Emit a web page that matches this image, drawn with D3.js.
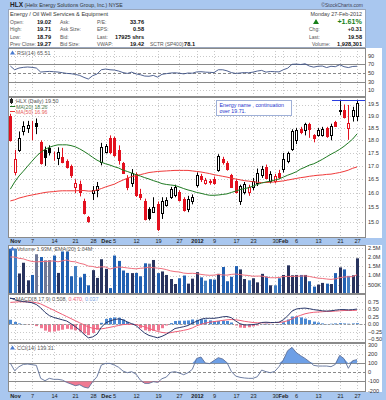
<!DOCTYPE html>
<html>
<head>
<meta charset="utf-8">
<script src="https://cdn.jsdelivr.net/npm/d3@7"></script>
<style>
  body { margin: 0; background: #a9c7ef; }
  svg { display: block; font-family: "Liberation Sans", Arial, sans-serif; }
</style>
</head>
<body>
<svg id="chart" width="386" height="400"></svg>
<script>
// trading days shown on the chart
const dates = [
  "2011-10-31","2011-11-01","2011-11-02","2011-11-03","2011-11-04",
  "2011-11-07","2011-11-08","2011-11-09","2011-11-10","2011-11-11",
  "2011-11-14","2011-11-15","2011-11-16","2011-11-17","2011-11-18",
  "2011-11-21","2011-11-22","2011-11-23","2011-11-25",
  "2011-11-28","2011-11-29","2011-11-30","2011-12-01","2011-12-02",
  "2011-12-05","2011-12-06","2011-12-07","2011-12-08","2011-12-09",
  "2011-12-12","2011-12-13","2011-12-14","2011-12-15","2011-12-16",
  "2011-12-19","2011-12-20","2011-12-21","2011-12-22","2011-12-23",
  "2011-12-27","2011-12-28","2011-12-29","2011-12-30",
  "2012-01-03","2012-01-04","2012-01-05","2012-01-06",
  "2012-01-09","2012-01-10","2012-01-11","2012-01-12","2012-01-13",
  "2012-01-17","2012-01-18","2012-01-19","2012-01-20",
  "2012-01-23","2012-01-24","2012-01-25","2012-01-26","2012-01-27",
  "2012-01-30","2012-01-31","2012-02-01","2012-02-02","2012-02-03",
  "2012-02-06","2012-02-07","2012-02-08","2012-02-09","2012-02-10",
  "2012-02-13","2012-02-14","2012-02-15","2012-02-16","2012-02-17",
  "2012-02-21","2012-02-22","2012-02-23","2012-02-24",
  "2012-02-27"
];

const open = [19.00,16.78,17.63,18.37,18.50,18.52,18.70,17.95,17.60,17.70,
  17.50,17.30,17.33,17.18,17.00,16.20,16.33,15.72,15.16,16.00,
  16.12,17.13,17.55,18.10,18.08,17.60,17.10,16.55,16.35,16.70,
  15.98,15.72,15.45,15.35,15.60,15.30,15.58,15.86,15.92,16.03,
  15.79,15.44,15.70,16.30,16.62,16.37,16.45,16.50,16.83,17.25,
  17.12,16.65,16.43,15.72,16.05,16.05,16.20,16.35,16.65,16.95,
  16.43,16.45,16.75,16.88,17.20,17.65,18.00,18.45,18.43,18.65,
  18.22,18.20,18.22,18.52,18.22,18.75,19.20,19.25,18.52,19.00,
  19.02];
const high = [19.10,17.62,18.36,18.78,18.80,18.80,18.90,18.00,17.75,17.80,
  17.55,17.72,17.70,17.25,17.05,16.50,16.45,15.80,15.20,16.25,
  16.40,17.90,17.85,18.20,18.15,17.80,17.15,16.65,16.88,16.75,
  16.15,15.80,15.50,15.85,15.70,15.85,15.85,16.22,16.30,16.10,
  15.85,15.90,15.95,16.75,16.70,16.55,16.50,16.60,17.45,17.35,
  17.18,16.70,16.50,16.30,16.40,16.30,16.55,16.90,17.00,17.05,
  16.80,16.70,16.85,17.50,17.55,18.45,18.50,18.55,18.72,18.72,
  18.25,18.50,18.55,18.55,18.68,18.80,19.71,19.50,19.48,19.40,
  19.71];
const low = [17.95,16.65,17.54,18.20,18.30,18.00,18.25,17.05,17.00,17.40,
  17.20,17.03,17.10,16.90,16.55,16.00,15.88,15.25,14.97,15.75,
  15.85,17.02,17.48,17.45,17.35,17.05,16.70,16.10,16.22,15.86,
  15.75,15.05,15.05,15.30,14.70,15.10,15.52,15.79,15.85,15.70,
  15.35,15.33,15.60,16.20,16.40,16.30,16.30,16.30,16.78,17.05,
  16.82,16.18,15.98,15.58,15.95,15.90,16.10,16.25,16.55,16.50,
  16.35,16.35,16.50,16.75,17.10,17.58,17.85,18.25,18.20,18.10,
  17.92,18.15,18.15,18.10,18.00,18.55,19.05,18.90,18.02,18.77,
  18.79];
const close = [18.00,17.26,18.10,18.60,18.62,18.50,18.60,17.12,17.35,17.55,
  17.48,17.55,17.15,16.95,16.65,16.35,16.02,15.30,15.03,16.10,
  16.25,17.75,17.78,17.52,17.42,17.23,16.75,16.20,16.75,15.93,
  15.85,15.10,15.12,15.50,14.75,15.70,15.75,16.14,16.22,15.75,
  15.40,15.79,15.86,16.65,16.52,16.47,16.40,16.38,17.38,17.15,
  16.88,16.22,16.04,16.25,16.33,16.20,16.45,16.75,16.88,16.55,
  16.68,16.62,16.58,17.25,17.50,18.38,18.40,18.32,18.65,18.45,
  18.10,18.42,18.48,18.18,18.60,18.58,19.27,18.98,18.70,19.27,
  19.58];

const ma20 = [16.14,16.40,16.62,16.80,16.99,17.18,17.37,17.52,17.64,17.72,
  17.78,17.82,17.82,17.82,17.79,17.74,17.66,17.56,17.45,17.33,
  17.22,17.14,17.08,17.03,16.97,16.92,16.84,16.79,16.73,16.67,
  16.62,16.56,16.51,16.45,16.40,16.34,16.31,16.29,16.27,16.22,
  16.16,16.11,16.07,16.02,15.99,15.95,15.92,15.92,15.93,15.95,
  15.97,16.02,16.07,16.12,16.16,16.19,16.25,16.31,16.36,16.40,
  16.43,16.47,16.51,16.58,16.65,16.71,16.78,16.88,16.95,17.03,
  17.08,17.16,17.25,17.35,17.45,17.54,17.64,17.76,17.90,18.05,
  18.26];
const ma50 = [15.72,15.76,15.82,15.86,15.90,15.93,15.96,15.99,16.02,16.04,
  16.05,16.07,16.08,16.08,16.08,16.08,16.09,16.09,16.07,16.07,
  16.11,16.16,16.22,16.27,16.32,16.40,16.47,16.54,16.60,16.63,
  16.67,16.71,16.75,16.77,16.79,16.80,16.81,16.82,16.83,16.83,
  16.83,16.83,16.81,16.79,16.77,16.74,16.71,16.67,16.64,16.61,
  16.58,16.54,16.51,16.48,16.45,16.43,16.41,16.39,16.38,16.38,
  16.39,16.40,16.42,16.44,16.47,16.50,16.53,16.56,16.58,16.61,
  16.63,16.65,16.66,16.68,16.69,16.72,16.75,16.79,16.84,16.91,
  16.96];

// volume in millions of shares
const volume = [2.45,2.45,1.11,1.69,0.74,1.03,2.15,2.00,1.82,1.83,
  2.08,1.14,2.30,2.30,0.96,1.51,0.90,1.09,0.47,1.29,
  0.87,1.88,1.36,0.32,2.08,1.79,1.27,1.14,1.13,1.14,
  0.96,1.66,1.64,1.84,1.13,1.22,1.03,0.81,0.54,0.85,
  1.00,0.56,0.83,1.18,0.90,0.72,0.80,0.78,1.09,1.46,
  0.69,0.93,1.51,1.33,0.81,0.74,0.85,0.63,1.09,0.94,
  0.47,0.47,0.85,1.03,1.55,1.01,1.03,1.03,1.03,0.69,
  0.40,0.51,0.60,0.56,0.54,1.13,1.44,1.33,0.98,1.01,
  1.93];
const volEma = [2.00,2.00,1.93,1.90,1.82,1.76,1.74,1.75,1.76,1.77,
  1.79,1.74,1.79,1.84,1.76,1.74,1.66,1.61,1.51,1.49,
  1.43,1.47,1.46,1.35,1.42,1.46,1.44,1.41,1.38,1.36,
  1.39,1.41,1.45,1.42,1.40,1.37,1.32,1.25,1.21,1.19,
  1.13,1.11,1.12,1.10,1.06,1.03,1.01,1.02,1.06,1.03,
  1.02,1.06,1.08,1.05,1.02,1.00,0.96,0.97,0.97,0.92,
  0.88,0.88,0.89,0.95,0.95,0.95,0.96,0.97,0.98,0.95,
  0.90,0.86,0.84,0.81,0.79,0.82,0.88,0.92,0.93,0.94,
  1.04];

const rsi = [66,57.5,61.4,63,63.8,63,61.4,52.2,53,53.7,
  53,52.2,50.7,49.1,48.4,46.8,44.5,39.9,36.1,43.8,
  47.6,57.5,59.1,57.5,56.8,54.5,51,49,52,48,
  46,43,42.5,44.5,40.5,47,48.5,50,50.5,49.5,
  48,50,49.5,52.5,53,52,51.5,51,57.5,57.5,
  55,51,49,50,51,50.5,52,54.5,56,52,
  53.5,53,52.5,57.5,61,70,70.5,69.5,71,66,
  63.5,65.5,66,62.5,65.5,64.5,69,64.5,62.5,65,
  65.51];

const macd = [0.88,0.82,0.78,0.76,0.74,0.72,0.66,0.55,0.40,0.29,
  0.23,0.19,0.15,0.11,0.02,-0.08,-0.19,-0.33,-0.45,-0.42,
  -0.33,-0.10,0.05,0.11,0.16,0.18,0.15,0.08,0.02,-0.04,
  -0.17,-0.29,-0.37,-0.41,-0.45,-0.40,-0.33,-0.24,-0.14,-0.11,
  -0.08,-0.04,0.04,0.10,0.17,0.20,0.20,0.20,0.22,0.25,
  0.26,0.22,0.11,0.02,-0.02,-0.02,-0.01,0.01,0.06,0.07,
  0.06,0.06,0.07,0.15,0.28,0.44,0.51,0.53,0.54,0.52,
  0.49,0.47,0.45,0.44,0.45,0.47,0.49,0.49,0.48,0.49,
  0.508];
const signal = [0.73,0.74,0.75,0.75,0.75,0.74,0.72,0.68,0.61,0.54,
  0.47,0.40,0.33,0.26,0.19,0.12,0.05,-0.02,-0.09,-0.13,
  -0.15,-0.15,-0.13,-0.10,-0.07,-0.04,-0.01,0.00,0.00,-0.01,
  -0.04,-0.09,-0.14,-0.19,-0.24,-0.27,-0.29,-0.28,-0.25,-0.23,
  -0.20,-0.17,-0.12,-0.05,0.00,0.04,0.07,0.09,0.11,0.13,
  0.15,0.16,0.15,0.13,0.10,0.08,0.06,0.05,0.05,0.05,
  0.05,0.06,0.06,0.08,0.12,0.18,0.25,0.30,0.35,0.38,
  0.40,0.41,0.42,0.43,0.43,0.44,0.45,0.46,0.46,0.46,
  0.470];

const cci = [100,18,62,87,91,84,77,-66,-92,-66,
  -77,-77,-85,-110,-128,-147,-136,-162,-173,-103,
  -48,80,98,98,80,55,14,-4,7,-19,
  -85,-121,-121,-103,-110,-70,-52,0,7,-8,
  -26,-4,33,153,168,102,96,130,161,146,
  106,10,-41,-55,-62,-66,-66,-48,25,7,
  -4,10,62,135,238,274,216,183,153,117,
  77,69,69,69,62,87,186,150,44,128,
  139.31];

// x axis labels
const tickDates = ["2011-11-01","2011-11-07","2011-11-14","2011-11-21","2011-11-28",
  "2011-12-01","2011-12-05","2011-12-12","2011-12-19","2011-12-27",
  "2012-01-03","2012-01-09","2012-01-17","2012-01-23","2012-01-30",
  "2012-02-01","2012-02-06","2012-02-13","2012-02-21","2012-02-27"];
const tickLabels = ["Nov","7","14","21","28","Dec","5","12","19","27",
  "2012","9","17","23","30","Feb","6","13","21","27"];

const priceTicks = [19.5,19.0,18.5,18.0,17.5,17.0,16.5,16.0,15.5,15.0];
const rsiTicks = [90,70,50,30,10];
const volTicks = [2.5,2.0,1.5,1.0,0.5];
const macdTicks = [0.75,0.5,0.25,0,-0.25,-0.5];
const cciTicks = [300,200,100,0,-100,-200];

// annotation drawn on the chart
const noteLines = ["Energy name , continuation", "over 19.71."];
const noteLevel = 19.71;
const noteStart = "2012-01-10";
const lineStart = "2012-02-16";

// ---------- layout ----------
const svg = d3.select("#chart");
const PL = 8, PR = 366, AX = 382;
const n = dates.length;
const x = d3.scaleLinear().domain([0, n - 1]).range([10.33, 357]);
const cx = i => Math.round(x(i)) + 0.5;
const tickIdx = tickDates.map(d => dates.indexOf(d));

svg.append("rect").attr("width", 386).attr("height", 400).attr("fill", "#a9c7ef");

function txt(g, xx, yy, s, o = {}) {
  return g.append("text").attr("x", xx).attr("y", yy)
    .attr("font-size", o.size || 6)
    .attr("font-weight", o.bold ? "bold" : null)
    .attr("fill", o.fill || "#333")
    .attr("text-anchor", o.anchor || "start")
    .text(s);
}

// ---------- header ----------
const head = svg.append("g");
const title = head.append("text").attr("x", 10).attr("y", 7).attr("fill", "#222");
title.append("tspan").attr("font-size", 6.5).attr("font-weight", "bold").text("HLX");
title.append("tspan").attr("font-size", 5.2).attr("fill", "#333").text(" (Helix Energy Solutions Group, Inc.) NYSE");
txt(head, 363, 6.5, "\u00a9StockCharts.com", { size: 5, anchor: "end", fill: "#445" });

head.append("rect").attr("x", PL + 0.5).attr("y", 9.5).attr("width", PR - PL - 1).attr("height", 38)
  .attr("fill", "#fff").attr("stroke", "#9aa7bd");

txt(head, 10, 16, "Energy / Oil Well Services & Equipment", { size: 5.6, fill: "#333" });
const rowsY = [23.5, 31, 38.5, 46];
const col1 = [["Open:", "19.02"], ["High:", "19.71"], ["Low:", "18.79"], ["Prev Close:", "19.27"]];
const col2 = ["Ask:", "Ask Size:", "Bid:", "Bid Size:"];
const col3 = [["P/E:", "33.76"], ["EPS:", "0.58"], ["Last:", "17925 shrs"], ["VWAP:", "19.42"]];
rowsY.forEach((yy, r) => {
  txt(head, 10, yy, col1[r][0], { size: 5, fill: "#555" });
  txt(head, 51, yy, col1[r][1], { size: 5.6, bold: true, anchor: "end", fill: "#111" });
  txt(head, 60, yy, col2[r], { size: 5, fill: "#555" });
  txt(head, 97, yy, col3[r][0], { size: 5, fill: "#555" });
  txt(head, 144, yy, col3[r][1], { size: 5.6, bold: true, anchor: "end", fill: "#111" });
});
txt(head, 150, 46, "SCTR (SP400):", { size: 5, fill: "#555" });
txt(head, 195, 46, "78.1", { size: 5.6, bold: true, anchor: "end", fill: "#111" });

txt(head, 362, 16, "Monday 27-Feb-2012", { size: 5.4, anchor: "end", fill: "#444" });
head.append("path").attr("d", "M313,24 L316,19 L319,24 Z").attr("fill", "#16801a");
txt(head, 362, 24, "+1.61%", { size: 7.2, bold: true, anchor: "end", fill: "#16801a" });
txt(head, 309, 31, "Chg:", { size: 5, fill: "#555" });
txt(head, 362, 31, "+0.31", { size: 5.6, bold: true, anchor: "end", fill: "#222" });
txt(head, 309, 38.5, "Last:", { size: 5, fill: "#555" });
txt(head, 362, 38.5, "19.58", { size: 5.6, bold: true, anchor: "end", fill: "#111" });
txt(head, 312, 46, "Volume:", { size: 5, fill: "#555" });
txt(head, 362, 46, "1,928,301", { size: 5.6, bold: true, anchor: "end", fill: "#111" });

// ---------- panel helper ----------
let clipN = 0;
function panel(top, bottom, y, ticks, fmt, solid = [], dashed = []) {
  const g = svg.append("g");
  g.append("rect").attr("x", PL).attr("y", top).attr("width", AX - PL).attr("height", bottom - top)
    .attr("fill", "#fff");
  g.selectAll(null).data(tickIdx).join("line")
    .attr("x1", cx).attr("x2", cx).attr("y1", top).attr("y2", bottom)
    .attr("stroke", "#c9c9c9").attr("stroke-dasharray", "1,2");
  g.selectAll(null).data(ticks.filter(t => !solid.includes(t) && !dashed.includes(t))).join("line")
    .attr("x1", PL).attr("x2", PR)
    .attr("y1", d => Math.round(y(d)) + 0.5).attr("y2", d => Math.round(y(d)) + 0.5)
    .attr("stroke", "#c9c9c9").attr("stroke-dasharray", "1,2");
  g.selectAll(null).data(solid).join("line")
    .attr("x1", PL).attr("x2", PR)
    .attr("y1", d => Math.round(y(d)) + 0.5).attr("y2", d => Math.round(y(d)) + 0.5)
    .attr("stroke", "#8a8a8a");
  g.selectAll(null).data(dashed).join("line")
    .attr("x1", PL).attr("x2", PR)
    .attr("y1", d => Math.round(y(d)) + 0.5).attr("y2", d => Math.round(y(d)) + 0.5)
    .attr("stroke", "#8a8a8a").attr("stroke-dasharray", "3,2");
  g.selectAll(null).data(ticks).join("text")
    .attr("x", PR + 2).attr("y", d => y(d)).attr("dy", "0.35em")
    .attr("font-size", 5.6).attr("fill", "#333").text(fmt);
  const id = "clip" + (clipN++);
  svg.append("clipPath").attr("id", id).append("rect")
    .attr("x", PL).attr("y", top).attr("width", PR - PL).attr("height", bottom - top);
  const plot = svg.append("g").attr("clip-path", `url(#${id})`);
  const frame = () => svg.append("rect").attr("x", PL + 0.5).attr("y", top + 0.5)
    .attr("width", PR - PL - 1).attr("height", bottom - top - 1)
    .attr("fill", "none").attr("stroke", "#8a8a8a");
  return { plot, frame, g };
}

function icon(g, yy) {
  g.append("path").attr("d", `M10,${yy + 2} L12.5,${yy - 2} L15,${yy + 2} Z`).attr("fill", "#4a7bd0");
}

const lineGen = (y, arr) => d3.line().x((d, i) => x(i)).y(d => y(d))(arr);

// ---------- RSI ----------
const yR = d3.scaleLinear().domain([-5.2, 107.5]).range([97, 48]);
const pR = panel(48, 97, yR, rsiTicks, d => d, [70, 30], [50]);
pR.plot.append("path")
  .attr("d", d3.area().x((d, i) => x(i)).y0(yR(70)).y1(d => yR(Math.max(d, 70)))(rsi))
  .attr("fill", "#34497e");
pR.plot.append("path").attr("d", lineGen(yR, rsi)).attr("fill", "none")
  .attr("stroke", "#3d5186").attr("stroke-width", 0.9);
pR.frame();
icon(svg, 52.5);
txt(svg, 17, 54.5, "RSI(14) 65.51", { size: 5.4, fill: "#555" });

// ---------- price ----------
const yP = d3.scaleLog().domain([14.47, 19.83]).range([238, 97]);
const pP = panel(97, 238, yP, priceTicks, d3.format(".1f"));

const isUp = i => close[i] >= (i ? close[i - 1] : open[i]);
const candles = pP.plot.append("g");
d3.range(n).forEach(i => {
  const col = isUp(i) ? "#000" : "#e3101e";
  const hollow = close[i] > open[i];
  candles.append("line")
    .attr("x1", cx(i)).attr("x2", cx(i))
    .attr("y1", yP(high[i])).attr("y2", yP(low[i]))
    .attr("stroke", col).attr("stroke-width", 1);
  const yTop = Math.round(yP(Math.max(open[i], close[i]))) + 0.5;
  const yBot = Math.round(yP(Math.min(open[i], close[i]))) + 0.5;
  candles.append("rect")
    .attr("x", Math.round(x(i)) - 0.5).attr("y", yTop)
    .attr("width", 2).attr("height", Math.max(yBot - yTop, 0))
    .attr("fill", hollow ? "#fff" : col).attr("stroke", col).attr("stroke-width", 1);
});
pP.plot.append("path").attr("d", lineGen(yP, ma50)).attr("fill", "none")
  .attr("stroke", "#f03a3a").attr("stroke-width", 1);
pP.plot.append("path").attr("d", lineGen(yP, ma20)).attr("fill", "none")
  .attr("stroke", "#1f7a22").attr("stroke-width", 1);

// annotation
const lvlY = Math.round(yP(noteLevel)) + 0.5;
pP.plot.append("line")
  .attr("x1", x(dates.indexOf(lineStart)) + 1).attr("x2", PR)
  .attr("y1", lvlY).attr("y2", lvlY).attr("stroke", "#2a3ee0").attr("stroke-width", 1);
const nx = Math.round(x(dates.indexOf(noteStart))) + 0.5;
pP.plot.append("rect").attr("x", nx - 2).attr("y", lvlY).attr("width", 75).attr("height", 15)
  .attr("fill", "#fff").attr("stroke", "#9fb0d8");
noteLines.forEach((s, k) => txt(pP.plot, nx + 1, lvlY + 6.5 + k * 6, s, { size: 5.3, fill: "#2233cc" }));
pP.frame();

svg.append("rect").attr("x", 10).attr("y", 99).attr("width", 3).attr("height", 4).attr("fill", "#222");
svg.append("line").attr("x1", 11.5).attr("x2", 11.5).attr("y1", 98).attr("y2", 104).attr("stroke", "#222");
txt(svg, 16, 103, "HLX (Daily) 19.50", { size: 5.4, fill: "#555" });
svg.append("line").attr("x1", 10).attr("x2", 15).attr("y1", 106.5).attr("y2", 106.5).attr("stroke", "#1f7a22");
txt(svg, 16, 108.5, "MA(20) 18.26", { size: 5.2, fill: "#4b7a4b" });
svg.append("line").attr("x1", 10).attr("x2", 15).attr("y1", 111.5).attr("y2", 111.5).attr("stroke", "#f03a3a");
txt(svg, 16, 113.5, "MA(50) 16.96", { size: 5.2, fill: "#e85a5a" });

// ---------- date bands ----------
function dateBand(yy) {
  svg.append("g").selectAll("text").data(tickIdx).join("text")
    .attr("x", cx).attr("y", yy).attr("text-anchor", "middle")
    .attr("font-size", 5.6).attr("fill", "#222")
    .attr("font-weight", (d, k) => isNaN(+tickLabels[k]) || tickLabels[k].length === 4 ? "bold" : null)
    .text((d, k) => tickLabels[k]);
}
dateBand(243.3);
dateBand(398);

// ---------- volume ----------
const yV = d3.scaleLinear().domain([0, 2.65]).range([294, 245]);
const pV = panel(245, 294, yV, volTicks, d => d >= 1 ? d.toFixed(1) + "M" : d * 1000 + "K");
const volColor = i => {
  const up = isUp(i), hollow = close[i] > open[i];
  if (up) return hollow ? "#28335e" : "#6d7797";
  return hollow ? "#437fc2" : "#2160b2";
};
pV.plot.selectAll(null).data(volume).join("rect")
  .attr("x", (d, i) => Math.round(x(i)) - 1).attr("width", 3)
  .attr("y", d => yV(d)).attr("height", d => yV(0) - yV(d))
  .attr("fill", (d, i) => volColor(i));
pV.plot.append("path").attr("d", lineGen(yV, volEma)).attr("fill", "none")
  .attr("stroke", "#f0707e").attr("stroke-width", 1);
pV.frame();
icon(svg, 248.5);
txt(svg, 17, 250.5, "Volume 1.93M, EMA(20) 1.04M", { size: 5.4, fill: "#555" });

// ---------- MACD ----------
const yM = d3.scaleLinear().domain([-0.623, 1.01]).range([343, 294]);
const pM = panel(294, 343, yM, macdTicks, d3.format(".2f"));
const hist = macd.map((m, i) => m - signal[i]);
pM.plot.selectAll(null).data(hist).join("rect")
  .attr("x", (d, i) => Math.round(x(i)) - 1).attr("width", 3)
  .attr("y", d => Math.min(yM(d), yM(0))).attr("height", d => Math.abs(yM(d) - yM(0)))
  .attr("fill", d => d >= 0 ? "#4a88d2" : "#f07892");
pM.plot.append("line").attr("x1", PL).attr("x2", PR)
  .attr("y1", Math.round(yM(0)) + 0.5).attr("y2", Math.round(yM(0)) + 0.5)
  .attr("stroke", "#999").attr("stroke-dasharray", "2,2");
pM.plot.append("path").attr("d", lineGen(yM, signal)).attr("fill", "none")
  .attr("stroke", "#f06078").attr("stroke-width", 1);
pM.plot.append("path").attr("d", lineGen(yM, macd)).attr("fill", "none")
  .attr("stroke", "#2c3a6c").attr("stroke-width", 1);
pM.frame();
svg.append("line").attr("x1", 10).attr("x2", 15).attr("y1", 298.5).attr("y2", 298.5).attr("stroke", "#2c3a6c");
const mt = svg.append("text").attr("x", 16).attr("y", 300.5).attr("font-size", 5.4).attr("fill", "#555");
mt.append("tspan").text("MACD(8,17,9) 0.508, ");
mt.append("tspan").attr("fill", "#f06078").text("0.470, ");
mt.append("tspan").attr("fill", "#7ea6e6").text("0.037");

// ---------- CCI ----------
const yC = d3.scaleLinear().domain([-216, 322]).range([392, 343]);
const pC = panel(343, 392, yC, cciTicks, d => d, [100, -100], [0]);
pC.plot.append("path")
  .attr("d", d3.area().x((d, i) => x(i)).y0(yC(100)).y1(d => yC(Math.max(d, 100)))(cci))
  .attr("fill", "#6d9fe6");
pC.plot.append("path")
  .attr("d", d3.area().x((d, i) => x(i)).y0(yC(-100)).y1(d => yC(Math.min(d, -100)))(cci))
  .attr("fill", "#f07a92");
pC.plot.append("path").attr("d", lineGen(yC, cci)).attr("fill", "none")
  .attr("stroke", "#5d6f98").attr("stroke-width", 0.9);
pC.frame();
icon(svg, 347.5);
txt(svg, 17, 349.5, "CCI(14) 139.31", { size: 5.4, fill: "#555" });
</script>
</body>
</html>
